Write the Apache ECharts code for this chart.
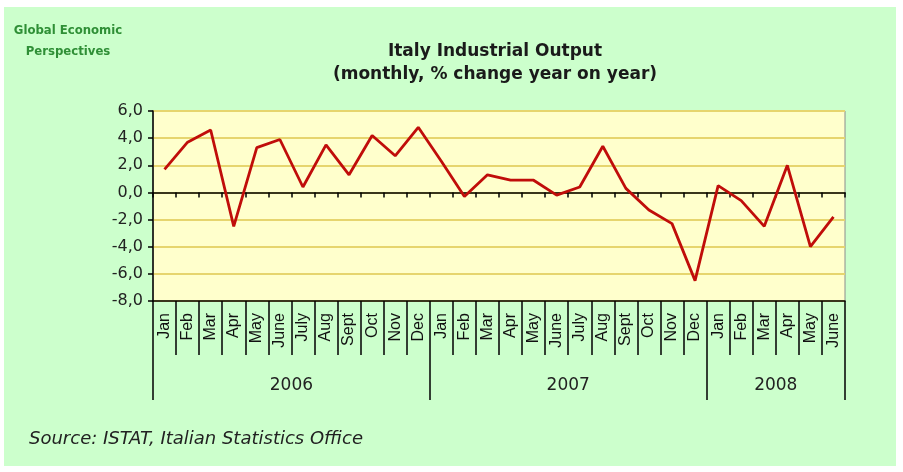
<!DOCTYPE html>
<html>
<head>
<meta charset="utf-8">
<script src="https://cdn.jsdelivr.net/npm/echarts@6/dist/echarts.min.js"></script>
<style>
  html, body { margin: 0; padding: 0; background: #ffffff; }
  #main { width: 903px; height: 472px; }
</style>
</head>
<body>
<div id="main"></div>
<script>
// month labels, Jan 2006 .. June 2008
const months = [
    'Jan', 'Feb', 'Mar', 'Apr', 'May', 'June', 'July', 'Aug', 'Sept', 'Oct', 'Nov', 'Dec',
    'Jan', 'Feb', 'Mar', 'Apr', 'May', 'June', 'July', 'Aug', 'Sept', 'Oct', 'Nov', 'Dec',
    'Jan', 'Feb', 'Mar', 'Apr', 'May', 'June'
]
const values_2006 = [1.7, 3.7, 4.6, -2.5, 3.3, 3.9, 0.4, 3.5, 1.3, 4.2, 2.7, 4.8]
const values_2007 = [2.3, -0.3, 1.3, 0.9, 0.9, -0.2, 0.4, 3.4, 0.3, -1.3, -2.3, -6.5]
const values_2008 = [0.5, -0.6, -2.5, 2.0, -4.0, -1.8]

const years = ['2006', '2007', '2008']
const year_lengths = [12, 12, 6]

const y_min = -8
const y_max = 6
const y_step = 2

const output = [...values_2006, ...values_2007, ...values_2008]

// year boundaries and centers on a 0..N month scale
let bounds = [0]
let centers = []
year_lengths.forEach(n => {
    const start = bounds[bounds.length - 1]
    centers.push(start + n / 2)
    bounds.push(start + n)
})
// month boundaries, for the separators
const month_bounds = months.map((m, i) => i).concat([months.length])

const comma = v => v.toFixed(1).replace('.', ',')

var myChart = echarts.init(document.getElementById('main'))

var option = {
    animation: false,
    backgroundColor: '#ffffff',
    graphic: [{
        type: 'rect',
        z: -10,
        shape: { x: 4, y: 7, width: 892, height: 459 },
        style: { fill: '#ccffcc' }
    }],
    title: [{
        text: 'Global Economic\nPerspectives',
        left: 63,
        top: 15,
        textAlign: 'center',
        textStyle: {
            fontFamily: '"DejaVu Sans Condensed", "Liberation Sans Narrow", sans-serif',
            fontWeight: 'bold',
            fontSize: 13,
            lineHeight: 21,
            color: '#2f8f36'
        }
    }, {
        text: 'Italy Industrial Output\n(monthly, % change year on year)',
        left: 490,
        top: 35,
        textAlign: 'center',
        textStyle: {
            fontFamily: '"DejaVu Sans", sans-serif',
            fontWeight: 'bold',
            fontSize: 17,
            lineHeight: 23,
            color: '#1a1a1a'
        }
    }, {
        text: 'Source: ISTAT, Italian Statistics Office',
        left: 24,
        top: 425,
        textStyle: {
            fontFamily: '"DejaVu Sans", sans-serif',
            fontStyle: 'italic',
            fontWeight: 'normal',
            fontSize: 18,
            color: '#222222'
        }
    }],
    grid: {
        left: 153,
        right: 58,
        top: 111,
        bottom: 171,
        show: true,
        backgroundColor: '#ffffcc',
        borderColor: '#8c8c8c',
        borderWidth: 1
    },
    xAxis: [{
        // month labels under the plot
        type: 'category',
        data: months,
        position: 'bottom',
        boundaryGap: true,
        axisLine: { onZero: false, lineStyle: { color: '#000', width: 1.5 } },
        axisTick: { show: false },
        axisLabel: {
            interval: 0,
            rotate: 90,
            margin: 12,
            fontFamily: '"Liberation Sans", Arial, sans-serif',
            fontSize: 16,
            color: '#111'
        },
        splitLine: { show: false }
    }, {
        // zero line with small ticks
        type: 'value',
        min: 0,
        max: months.length,
        position: 'bottom',
        axisLine: { show: true, onZero: true, lineStyle: { color: '#000', width: 1.5 } },
        axisTick: { show: true, customValues: month_bounds, length: 5, lineStyle: { color: '#000', width: 1.5 } },
        axisLabel: { show: false },
        splitLine: { show: false }
    }, {
        // month separators below the plot
        type: 'value',
        min: 0,
        max: months.length,
        position: 'bottom',
        axisLine: { show: false, onZero: false },
        axisTick: { show: true, customValues: month_bounds, length: 54, lineStyle: { color: '#000', width: 1.5 } },
        axisLabel: { show: false },
        splitLine: { show: false }
    }, {
        // year labels and separators
        type: 'value',
        min: 0,
        max: months.length,
        position: 'bottom',
        axisLine: { show: false, onZero: false },
        axisTick: {
            show: true,
            customValues: bounds,
            length: 99,
            lineStyle: { color: '#000', width: 1.5 }
        },
        axisLabel: {
            customValues: centers,
            margin: 76,
            fontFamily: '"DejaVu Sans", sans-serif',
            fontSize: 17,
            color: '#222',
            formatter: v => years[centers.indexOf(v)] || ''
        },
        splitLine: { show: false }
    }],
    yAxis: {
        type: 'value',
        min: y_min,
        max: y_max,
        interval: y_step,
        axisLine: { show: true, lineStyle: { color: '#000', width: 1.5 } },
        axisTick: { show: true, length: 5, lineStyle: { color: '#000', width: 1.5 } },
        axisLabel: {
            margin: 10,
            fontFamily: '"DejaVu Sans", sans-serif',
            fontSize: 16,
            color: '#222',
            formatter: comma
        },
        splitLine: { show: true, lineStyle: { color: '#e6d56e', width: 2 } }
    },
    series: [{
        name: 'Italy Industrial Output',
        type: 'line',
        xAxisIndex: 0,
        data: output,
        showSymbol: false,
        symbol: 'none',
        lineStyle: { color: '#c00d0a', width: 2.8 },
        z: 5
    }]
}

myChart.setOption(option)
</script>
</body>
</html>
